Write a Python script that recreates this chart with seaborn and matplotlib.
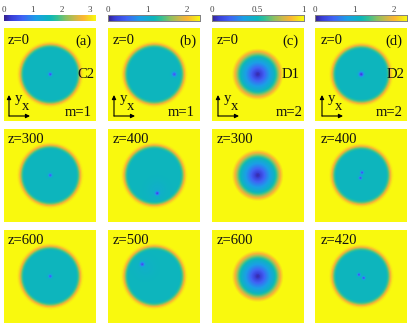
import numpy as np
import pandas as pd
import matplotlib
matplotlib.use("Agg")
import matplotlib.pyplot as plt
from matplotlib.colors import LinearSegmentedColormap
from matplotlib.patches import FancyArrowPatch
import seaborn as sns

sns.set_theme(style="white")
plt.rcParams["font.family"] = ["Liberation Serif", "DejaVu Serif"]

W, H = 415, 329
STOPS = [(0.0, "#35208f"), (0.08, "#3a3fd8"), (0.2, "#3f63f5"), (0.35, "#1a9fe6"),
         (0.5, "#0cb6bb"), (0.58, "#35c094"), (0.68, "#8dc060"), (0.78, "#d0b848"),
         (0.86, "#fbb534"), (0.93, "#f6d822"), (1.0, "#f9f90e")]
CMAP = LinearSegmentedColormap.from_list("field", STOPS)

# column geometry and colour limits
COL_LEFT = [4, 108, 211.5, 315]
COL_WIDTH = [92, 92, 92, 92]
ROW_TOP = [28, 129, 230]
ROW_HEIGHT = 92.5
VMAX = [3.2, 2.32, 1.0, 2.32]
BAR_TICKS = [[0, 1, 2, 3], [0, 1, 2], [0, 0.5, 1], [0, 1, 2]]
BAR_LABELS = [["0", "1", "2", "3"], ["0", "1", "2"], ["0", "0.5", "1"], ["0", "1", "2"]]
BAR_EDGE = [False, True, True, True]

# radial profiles (radius in px, field value)
RADII_A = [0, 25.5, 27, 28.5, 30, 31, 32.5, 34, 70]
LEVEL_A = [1.58, 1.58, 1.7, 2.05, 2.6, 2.9, 3.12, 3.2, 3.2]
RADII_B = [0, 25.5, 27, 28.5, 30, 31, 32.5, 34, 70]
LEVEL_B = [1.15, 1.15, 1.24, 1.49, 1.88, 2.1, 2.26, 2.32, 2.32]
RADII_C = [0, 2, 5, 9, 13, 16, 18, 20, 22, 24, 26, 70]
LEVEL_C = [0.03, 0.06, 0.15, 0.27, 0.38, 0.46, 0.54, 0.66, 0.8, 0.92, 1.0, 1.0]
RADII_D = [0, 24.5, 26, 27.5, 29, 30, 31.5, 33, 70]
LEVEL_D = [1.15, 1.15, 1.24, 1.49, 1.88, 2.1, 2.26, 2.32, 2.32]
PROFILES = [(RADII_A, LEVEL_A), (RADII_B, LEVEL_B), (RADII_C, LEVEL_C), (RADII_D, LEVEL_D)]

# vortex cores per panel: (dx, dy, depth, width) in px from the panel centre
CORES = {
    (0, 0): [(0, 0, 1.1, 1.9)], (1, 0): [(0, 0, 1.0, 1.9)], (2, 0): [(0, 0, 1.0, 1.9)],
    (0, 1): [(20, 0, 0.75, 2.4)], (1, 1): [(3, 18, 0.8, 2.0), (3, 15, 0.1, 10)],
    (2, 1): [(-12, -12, 0.75, 2.2), (-9, -9, 0.08, 10)],
    (0, 2): [], (1, 2): [], (2, 2): [],
    (0, 3): [(0, 0, 0.95, 2.5)],
    (1, 3): [(0.8, -2.7, 0.8, 1.7), (-0.8, 2.7, 0.8, 1.7)],
    (2, 3): [(-2.3, -1.6, 0.8, 1.7), (2.4, 1.7, 0.8, 1.7)],
}

Z_LABELS = [["z=0", "z=0", "z=0", "z=0"],
            ["z=300", "z=400", "z=300", "z=400"],
            ["z=600", "z=500", "z=600", "z=420"]]
LETTERS = ["(a)", "(b)", "(c)", "(d)"]
MODES = ["m=1", "m=1", "m=2", "m=2"]
NAMES = ["C2", "", "D1", "D2"]

TEXT_Z_X = [8, 113, 217, 321]
ROW_TEXT_Y = [40, 140, 241]
LETTER_RIGHT = [92, 196, 298.5, 402]
MODE_RIGHT = [92, 195, 303, 403]
NAME_RIGHT = [94, 0, 300, 404]
ARROW_X = [9, 114, 218, 322]

fig = plt.figure(figsize=(W / 100, H / 100), dpi=100, facecolor="white")


def axes_px(x, y, w, h):
    return fig.add_axes([x / W, 1 - (y + h) / H, w / W, h / H])


def field(col, row):
    n = 184
    c = (np.arange(n) + 0.5) / 2 - 46
    xx, yy = np.meshgrid(c, c)
    r = np.hypot(xx, yy)
    radii, levels = PROFILES[col]
    z = np.interp(r, radii, levels)
    for dx, dy, depth, width in CORES[(row, col)]:
        z = z - depth * np.exp(-((xx - dx) ** 2 + (yy - dy) ** 2) / width ** 2)
    return pd.DataFrame(np.clip(z, 0, None))


def txt(x, y, s, size=10.5, ha="left"):
    fig.text(x / W, 1 - y / H, s, fontsize=size, ha=ha, va="center", color="#111111")


def arrow(x0, y0, x1, y1):
    fig.add_artist(FancyArrowPatch((x0 / W, 1 - y0 / H), (x1 / W, 1 - y1 / H),
                                   transform=fig.transFigure, arrowstyle="-|>",
                                   mutation_scale=6, lw=0.8, color="black",
                                   shrinkA=0, shrinkB=0, zorder=10))


for col in range(4):
    for row in range(3):
        ax = axes_px(COL_LEFT[col], ROW_TOP[row], COL_WIDTH[col], ROW_HEIGHT)
        if row == 0:
            cax = axes_px(COL_LEFT[col], 15, COL_WIDTH[col], 6)
            sns.heatmap(field(col, row), ax=ax, cmap=CMAP, vmin=0, vmax=VMAX[col],
                        xticklabels=False, yticklabels=False, cbar_ax=cax,
                        cbar_kws={"orientation": "horizontal"}, rasterized=True)
            cax.xaxis.set_ticks_position("top")
            cax.set_xticks(BAR_TICKS[col])
            cax.set_xticklabels(BAR_LABELS[col], fontsize=6.5, color="#444444")
            cax.tick_params(axis="x", direction="in", length=1.5, width=0.5, pad=0.8,
                            top=True, bottom=False)
            for s in cax.spines.values():
                s.set_visible(BAR_EDGE[col])
                s.set_color("#808080")
                s.set_linewidth(0.6)
        else:
            sns.heatmap(field(col, row), ax=ax, cmap=CMAP, vmin=0, vmax=VMAX[col],
                        xticklabels=False, yticklabels=False, cbar=False, rasterized=True)
        txt(TEXT_Z_X[col], ROW_TEXT_Y[row], Z_LABELS[row][col])

    txt(LETTER_RIGHT[col], 41, LETTERS[col], ha="right")
    txt(MODE_RIGHT[col], 112, MODES[col], ha="right")
    if NAMES[col]:
        txt(NAME_RIGHT[col], 74, NAMES[col], ha="right")
    ox = ARROW_X[col]
    arrow(ox, 116, ox, 95)
    arrow(ox, 116, ox + 21, 116)
    txt(ox + 6, 98.5, "y", size=10.5)
    txt(ox + 13, 106.5, "x", size=10.5)

fig.savefig("out.png", dpi=100, facecolor="white")
